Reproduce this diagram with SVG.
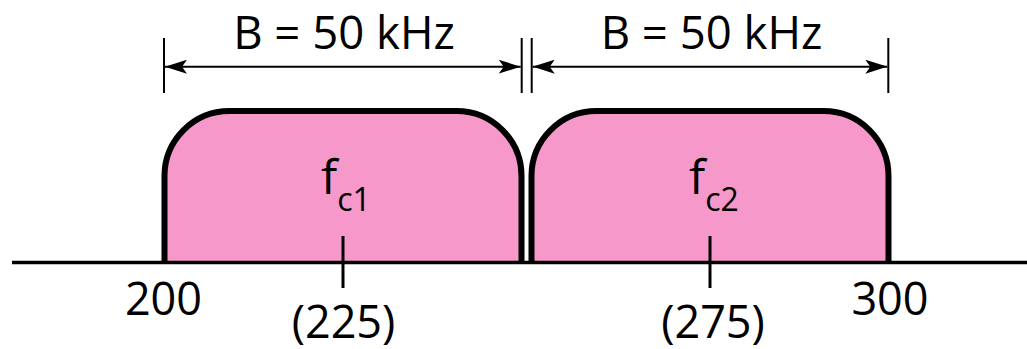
<svg xmlns="http://www.w3.org/2000/svg" width="1027" height="349" viewBox="0 0 1027 349">
  <style>
    .band { fill: #F798CA; stroke: #000; stroke-width: 6; }
    .dim { stroke: #000; stroke-width: 2; fill: none; }
    .tick { stroke: #000; stroke-width: 2; }
    .ctick { stroke: #000; stroke-width: 3; }
    .axis { stroke: #000; stroke-width: 3.5; }
    text { font-family: "Open Sans", "Noto Sans", sans-serif; fill: #000; }
    .lbl { font-size: 45.5px; text-anchor: middle; }
    .num { font-size: 45px; text-anchor: middle; }
    .fc { font-size: 48px; }
    .sub { font-size: 32px; }
  </style>
  <defs>
    <marker id="arr" viewBox="0 0 22 14" refX="22" refY="7" markerWidth="22" markerHeight="14" markerUnits="userSpaceOnUse" orient="auto-start-reverse">
      <path d="M0,0 L22,7 L0,14 L5,7 Z" fill="#000"/>
    </marker>
  </defs>

  <g id="band1">
    <path class="band" d="M164.5,262 V176 A65,65 0 0 1 229.5,111 H456.5 A65,65 0 0 1 521.5,176 V262"/>
    <text class="fc" x="321" y="194">f<tspan class="sub" dy="17">c1</tspan></text>
  </g>
  <g id="band2">
    <path class="band" d="M531.5,262 V176 A65,65 0 0 1 596.5,111 H823.5 A65,65 0 0 1 888.5,176 V262"/>
    <text class="fc" x="689" y="194">f<tspan class="sub" dy="17">c2</tspan></text>
  </g>

  <g id="axis">
    <line class="axis" x1="12" y1="262.5" x2="1027" y2="262.5"/>
    <line class="ctick" x1="343" y1="236" x2="343" y2="288"/>
    <line class="ctick" x1="710" y1="236" x2="710" y2="288"/>
    <text class="num" x="163.5" y="315">200</text>
    <text class="num" x="890" y="315">300</text>
    <text class="num" x="343.5" y="338">(225)</text>
    <text class="num" x="713" y="338">(275)</text>
  </g>

  <g id="connectors">
    <line class="tick" x1="164" y1="38" x2="164" y2="93"/>
    <line class="tick" x1="521.7" y1="38" x2="521.7" y2="93"/>
    <line class="tick" x1="531.7" y1="38" x2="531.7" y2="93"/>
    <line class="tick" x1="888.3" y1="38" x2="888.3" y2="93"/>
    <line class="dim" x1="165" y1="66.7" x2="520.7" y2="66.7" marker-start="url(#arr)" marker-end="url(#arr)"/>
    <line class="dim" x1="532.7" y1="66.7" x2="887.3" y2="66.7" marker-start="url(#arr)" marker-end="url(#arr)"/>
  </g>

  <g id="labels">
    <text class="lbl" x="344" y="49">B = 50 kHz</text>
    <text class="lbl" x="711.5" y="49">B = 50 kHz</text>
  </g>
</svg>
